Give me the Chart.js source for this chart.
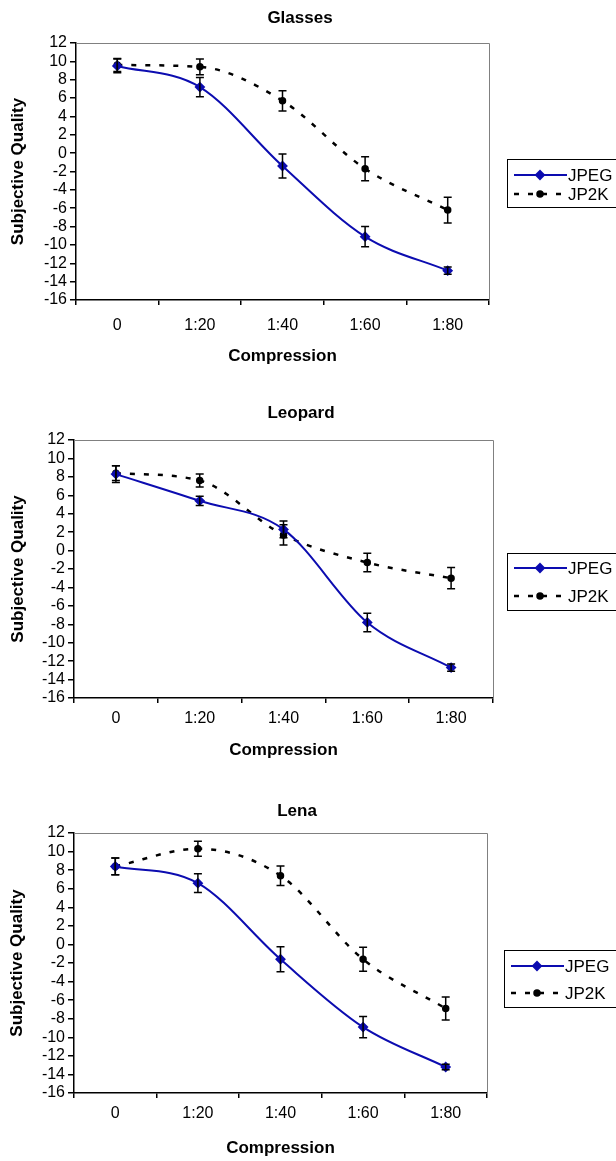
<!DOCTYPE html>
<html>
<head>
<meta charset="utf-8">
<script src="https://cdn.jsdelivr.net/npm/chart.js@4/dist/chart.umd.min.js"></script>
<style>
  body { margin: 0; background: #fff; width: 616px; height: 1161px; position: relative; overflow: hidden; }
  canvas { position: absolute; left: 0; }
</style>
</head>
<body>
<canvas id="glasses"></canvas>
<canvas id="leopard"></canvas>
<canvas id="lena"></canvas>
<script>
// data
const categories = ['0', '1:20', '1:40', '1:60', '1:80'];
const yMin = -16, yMax = 12, yStep = 2;
const seriesNames = ['JPEG', 'JP2K'];

const glassesJpeg    = [9.5, 7.2, -1.4, -9.1, -12.8];
const glassesJpegErr = [0.75, 1.05, 1.3, 1.1, 0.4];
const glassesJp2k    = [9.6, 9.4, 5.7, -1.7, -6.2];
const glassesJp2kErr = [0.7, 0.85, 1.1, 1.3, 1.4];

const leopardJpeg    = [8.3, 5.4, 2.3, -7.8, -12.7];
const leopardJpegErr = [0.9, 0.5, 0.9, 1.0, 0.4];
const leopardJp2k    = [8.4, 7.6, 1.7, -1.3, -3.0];
const leopardJp2kErr = [0.8, 0.7, 1.1, 1.0, 1.15];

const lenaJpeg    = [8.4, 6.6, -1.6, -8.9, -13.2];
const lenaJpegErr = [0.9, 1.0, 1.35, 1.15, 0.3];
const lenaJp2k    = [8.4, 10.3, 7.4, -1.6, -6.9];
const lenaJp2kErr = [0.9, 0.8, 1.05, 1.3, 1.25];

// page layout (absolute page pixels)
const layouts = {
  glasses: { top: 0,   height: 385, titleY: 18,  titleCX: 300, plotTop: 43,  plotBottom: 300,  plotLeft: 76, plotRight: 489, yTitleX: 18, labelY: 326,  xTitleY: 356,
             legend: { x: 507, y: 159, h: 48, rows: [175, 194] } },
  leopard: { top: 385, height: 385, titleY: 413, titleCX: 301, plotTop: 440, plotBottom: 698,  plotLeft: 74, plotRight: 493, yTitleX: 18, labelY: 719,  xTitleY: 750,
             legend: { x: 507, y: 553, h: 57, rows: [568, 596] } },
  lena:    { top: 770, height: 391, titleY: 811, titleCX: 297, plotTop: 833, plotBottom: 1093, plotLeft: 74, plotRight: 487, yTitleX: 17, labelY: 1114, xTitleY: 1148,
             legend: { x: 504, y: 950, h: 57, rows: [966, 993] } }
};

const FONT = '"Liberation Sans", Arial, sans-serif';
const JPEG_BLUE = '#0c0cb0';

// vertical error bars with caps
const errorBars = {
  id: 'errorBars',
  afterDatasetsDraw(chart) {
    const ctx = chart.ctx;
    const ys = chart.scales.y;
    chart.data.datasets.forEach((ds, i) => {
      const meta = chart.getDatasetMeta(i);
      meta.data.forEach((pt, j) => {
        const top = ys.getPixelForValue(ds.data[j] + ds.errors[j]);
        const bot = ys.getPixelForValue(ds.data[j] - ds.errors[j]);
        ctx.save();
        ctx.strokeStyle = '#000';
        ctx.lineWidth = 1.5;
        ctx.beginPath();
        ctx.moveTo(pt.x, top); ctx.lineTo(pt.x, bot);
        ctx.moveTo(pt.x - 4, top); ctx.lineTo(pt.x + 4, top);
        ctx.moveTo(pt.x - 4, bot); ctx.lineTo(pt.x + 4, bot);
        ctx.stroke();
        ctx.restore();
      });
    });
  }
};

// grey frame on top / right of plot area
const plotFrame = {
  id: 'plotFrame',
  beforeDatasetsDraw(chart) {
    const { ctx, chartArea: a } = chart;
    ctx.save();
    ctx.strokeStyle = '#808080';
    ctx.lineWidth = 1;
    ctx.beginPath();
    ctx.moveTo(a.left, a.top + 0.5);
    ctx.lineTo(a.right + 0.5, a.top + 0.5);
    ctx.lineTo(a.right + 0.5, a.bottom);
    ctx.stroke();
    ctx.restore();
  }
};

// Excel style boxed legend at the right
const boxLegend = {
  id: 'boxLegend',
  afterDraw(chart, args, opts) {
    const ctx = chart.ctx;
    const L = opts.box;
    const off = opts.offsetTop;
    ctx.save();
    ctx.strokeStyle = '#000';
    ctx.lineWidth = 1;
    ctx.strokeRect(L.x + 0.5, L.y - off + 0.5, 200, L.h);
    chart.data.datasets.forEach((ds, i) => {
      const y = L.rows[i] - off;
      ctx.strokeStyle = ds.borderColor;
      ctx.lineWidth = ds.borderWidth;
      ctx.setLineDash(ds.borderDash || []);
      ctx.beginPath();
      ctx.moveTo(L.x + 7, y);
      ctx.lineTo(L.x + 60, y);
      ctx.stroke();
      ctx.setLineDash([]);
      ctx.fillStyle = ds.pointBackgroundColor;
      ctx.strokeStyle = ds.pointBackgroundColor;
      Chart.helpers.drawPoint(ctx, { pointStyle: ds.pointStyle, radius: ds.pointRadius, borderWidth: 1, rotation: 0 }, L.x + 33, y);
      ctx.fillStyle = '#000';
      ctx.font = '17px ' + FONT;
      ctx.textBaseline = 'middle';
      ctx.textAlign = 'left';
      ctx.fillText(ds.label, L.x + 61, y + 1);
    });
    ctx.restore();
  }
};

function makeChart(id, title, jpeg, jpegErr, jp2k, jp2kErr) {
  const L = layouts[id];
  const canvas = document.getElementById(id);
  canvas.width = 616;
  canvas.height = L.height;
  canvas.style.top = L.top + 'px';

  const rel = v => v - L.top;
  const titleLH = 17 * 1.2, tickLH = 16 * 1.2, tickLen = 5;
  // the chart title is centred over [0, 2*titleCX]; a blank right axis fills the rest
  const rightPad = 616 - 2 * L.titleCX;

  return new Chart(canvas, {
    type: 'line',
    data: {
      labels: categories,
      datasets: [{
        label: seriesNames[0],
        data: jpeg,
        errors: jpegErr,
        borderColor: JPEG_BLUE,
        borderWidth: 2,
        pointStyle: 'rectRot',
        pointRadius: 4,
        pointBackgroundColor: JPEG_BLUE,
        pointBorderColor: JPEG_BLUE,
        cubicInterpolationMode: 'monotone'
      }, {
        label: seriesNames[1],
        data: jp2k,
        errors: jp2kErr,
        borderColor: '#000',
        borderWidth: 2.5,
        borderDash: [5, 9],
        pointStyle: 'circle',
        pointRadius: 2.5,
        pointBackgroundColor: '#000',
        pointBorderColor: '#000',
        cubicInterpolationMode: 'monotone'
      }]
    },
    options: {
      responsive: false,
      animation: false,
      events: [],
      layout: { padding: { top: 0, left: 0, bottom: 0, right: rightPad } },
      plugins: {
        legend: { display: false },
        tooltip: { enabled: false },
        title: {
          display: true,
          text: title,
          color: '#000',
          font: { family: FONT, size: 17, weight: 'bold', lineHeight: 1.2 },
          padding: { top: rel(L.titleY) - titleLH / 2, bottom: L.plotTop - L.titleY - titleLH / 2 }
        },
        boxLegend: { box: L.legend, offsetTop: L.top }
      },
      scales: {
        x: {
          type: 'category',
          offset: true,
          afterFit: s => { s.height = L.height - rel(L.plotBottom); },
          grid: { display: true, drawOnChartArea: false, offset: true, color: '#000', tickLength: tickLen, lineWidth: 1.5 },
          border: { display: true, color: '#000', width: 1.5 },
          ticks: {
            color: '#000',
            font: { family: FONT, size: 16 },
            padding: L.labelY - L.plotBottom - tickLen - tickLH / 2,
            maxRotation: 0
          },
          title: {
            display: true,
            text: 'Compression',
            color: '#000',
            font: { family: FONT, size: 17, weight: 'bold', lineHeight: 1.2 },
            padding: { top: 0, bottom: L.height - rel(L.xTitleY) - titleLH / 2 }
          }
        },
        y: {
          min: yMin,
          max: yMax,
          afterFit: s => { s.width = L.plotLeft; },
          grid: { display: true, drawOnChartArea: false, color: '#000', tickLength: 6, lineWidth: 1.5 },
          border: { display: true, color: '#000', width: 1.5 },
          ticks: {
            stepSize: yStep,
            autoSkip: false,
            color: '#000',
            font: { family: FONT, size: 16 },
            padding: 3
          },
          title: {
            display: true,
            text: 'Subjective Quality',
            color: '#000',
            font: { family: FONT, size: 17, weight: 'bold', lineHeight: 1.2 },
            padding: { top: L.yTitleX - titleLH / 2, bottom: 0 }
          }
        },
        // empty spacer on the right, holds the room where the legend sits
        spacer: {
          type: 'linear',
          position: 'right',
          display: true,
          afterFit: s => { s.width = 616 - rightPad - L.plotRight; },
          grid: { display: false, drawOnChartArea: false },
          border: { display: false },
          ticks: { display: false }
        }
      }
    },
    plugins: [plotFrame, errorBars, boxLegend]
  });
}

makeChart('glasses', 'Glasses', glassesJpeg, glassesJpegErr, glassesJp2k, glassesJp2kErr);
makeChart('leopard', 'Leopard', leopardJpeg, leopardJpegErr, leopardJp2k, leopardJp2kErr);
makeChart('lena', 'Lena', lenaJpeg, lenaJpegErr, lenaJp2k, lenaJp2kErr);
</script>
</body>
</html>
